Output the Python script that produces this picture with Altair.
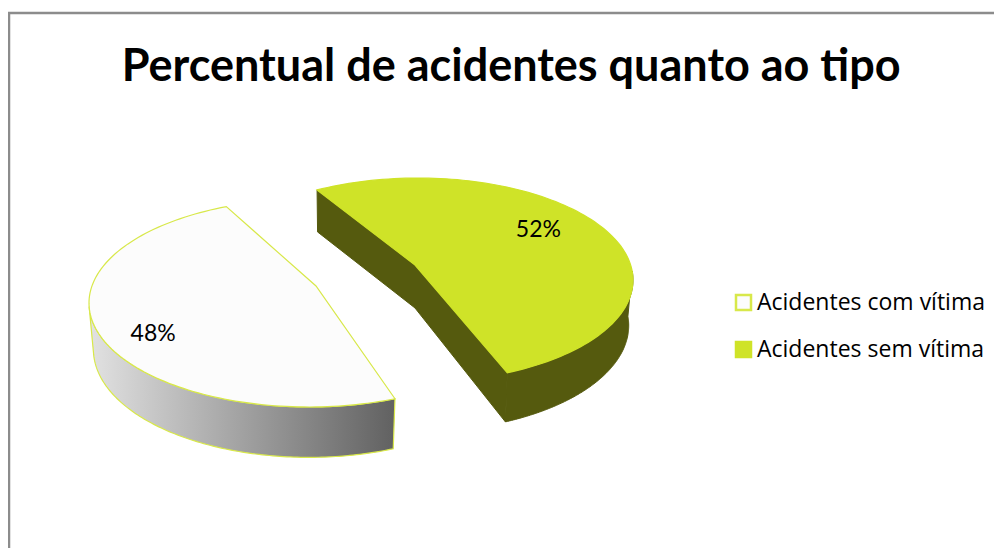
import numpy as np
import pandas as pd
import altair as alt

categories = ["Acidentes com vítima", "Acidentes sem vítima"]
shares = [48, 52]
labels = ["48%", "52%"]
title = "Percentual de acidentes quanto ao tipo"

# projection of the tilted, exploded pie
centers_x = [309, 418]
centers_y = [303, 280]
radius_x = [220, 215]
radius_y = [104, 102]
apex_x = [316, 415]
apex_y = [286, 265]
first_angle = [67, -118]
perspective = [1.047, 0.98]
label_radial = [0.767, 0.745]
label_shift = [0, -15]

W, H = 986, 540


def depth(y):
    return 42 + (y - 187) * 0.038


def arc(i, a0, a1, n=120):
    t = np.radians(np.linspace(a0, a1, n))
    return centers_x[i] + radius_x[i] * np.cos(t), centers_y[i] + radius_y[i] * np.sin(t)


def lower(i, x, y):
    return centers_x[i] + (x - centers_x[i]) * 0.98, y + depth(y)


def frame(x, y):
    return pd.DataFrame({"x": x, "y": y, "o": np.arange(len(x))})


spans = [s / 100 * 360 * p for s, p in zip(shares, perspective)]
ends = [a + s for a, s in zip(first_angle, spans)]

faces, walls = [], []
wall_ranges = [(first_angle[0], 178), (-5, ends[1])]
for i in range(2):
    ax, ay = arc(i, first_angle[i], ends[i])
    f = frame(np.r_[ax, apex_x[i]], np.r_[ay, apex_y[i]])
    f["categoria"] = categories[i]
    faces.append(f)
    wx, wy = arc(i, *wall_ranges[i])
    lx, ly = lower(i, wx, wy)
    walls.append(frame(np.r_[wx, lx[::-1]], np.r_[wy, ly[::-1]]))
faces = pd.concat(faces)

# inner wall of the green slice
gx, gy = arc(1, first_angle[1], ends[1], 2)
ix = np.array([gx[0], apex_x[1], gx[1]])
iy = np.array([gy[0], apex_y[1], gy[1]])
lix, liy = ix + np.array([0.5, 0, -2]), iy + np.array([42, 43, 49])
inner = frame(np.r_[ix, lix[::-1]], np.r_[iy, liy[::-1]])

mids = [a + s / 2 + d for a, s, d in zip(first_angle, spans, label_shift)]
text_df = pd.DataFrame({
    "x": [centers_x[i] + radius_x[i] * label_radial[i] * np.cos(np.radians(mids[i])) for i in range(2)],
    "y": [centers_y[i] + radius_y[i] * label_radial[i] * np.sin(np.radians(mids[i])) for i in range(2)],
    "t": labels,
})

X = alt.X("x:Q", axis=None, scale=alt.Scale(domain=[8, 8 + W]))
Y = alt.Y("y:Q", axis=None, scale=alt.Scale(domain=[8 + H, 8]))
O = alt.Order("o:Q")

GREEN = "#cfe328"
gradient = alt.LinearGradient(
    gradient="linear", x1=0, x2=1, y1=0, y2=0,
    stops=[alt.GradientStop(offset=0, color="#e2e2e2"), alt.GradientStop(offset=1, color="#616161")],
)

wall_white = alt.Chart(walls[0]).mark_line(
    interpolate="linear-closed", fill=gradient, stroke="#d8e84a", strokeWidth=1.2
).encode(x=X, y=Y, order=O)
wall_green = alt.Chart(walls[1]).mark_line(
    interpolate="linear-closed", fill="#555a0e", stroke="#555a0e", strokeWidth=1
).encode(x=X, y=Y, order=O)
wall_inner = alt.Chart(inner).mark_line(
    interpolate="linear-closed", fill="#555a0e", stroke="#555a0e", strokeWidth=1
).encode(x=X, y=Y, order=O)

face = alt.Chart(faces).mark_line(
    interpolate="linear-closed", strokeWidth=1.2
).encode(
    x=X, y=Y, order=O,
    stroke=alt.Stroke("categoria:N", scale=alt.Scale(domain=categories, range=["#d8e84a", GREEN]), legend=None),
    fill=alt.Fill(
        "categoria:N",
        scale=alt.Scale(domain=categories, range=["#fcfcfc", GREEN]),
        legend=alt.Legend(
            title=None, orient="none", legendX=724, legendY=283,
            symbolType="square", symbolSize=225, symbolStrokeColor=GREEN, symbolStrokeWidth=2.5,
            labelFont="Open Sans", labelFontSize=23, labelColor="#000000", labelLimit=300,
            labelOffset=2, rowPadding=22, symbolOpacity=1,
        ),
    ),
)

pct = alt.Chart(text_df).mark_text(font="Lato", fontSize=23, color="#000000").encode(x=X, y=Y, text="t:N")

frame_v = alt.Chart(pd.DataFrame({"a": [0]})).mark_rule(color="#8c8c8c", strokeWidth=2.5).encode(
    x=alt.value(1), y=alt.value(4), y2=alt.value(H))
frame_h = alt.Chart(pd.DataFrame({"a": [0]})).mark_rule(color="#8c8c8c", strokeWidth=2.5).encode(
    y=alt.value(5), x=alt.value(0), x2=alt.value(W))

chart = alt.layer(frame_v, frame_h, wall_white, wall_green, wall_inner, face, pct).properties(
    width=W, height=H,
    autosize=alt.AutoSizeParams(type="none"),
    padding=0,
    title=alt.TitleParams(title, font="Lato", fontSize=45, fontWeight="bold", color="#000000",
                          anchor="start", dx=115, dy=86),
).configure_view(stroke=None).configure_legend(symbolFillColor="#ffffff")

chart.save("out.html", embed_options={"renderer": "svg", "actions": False})
